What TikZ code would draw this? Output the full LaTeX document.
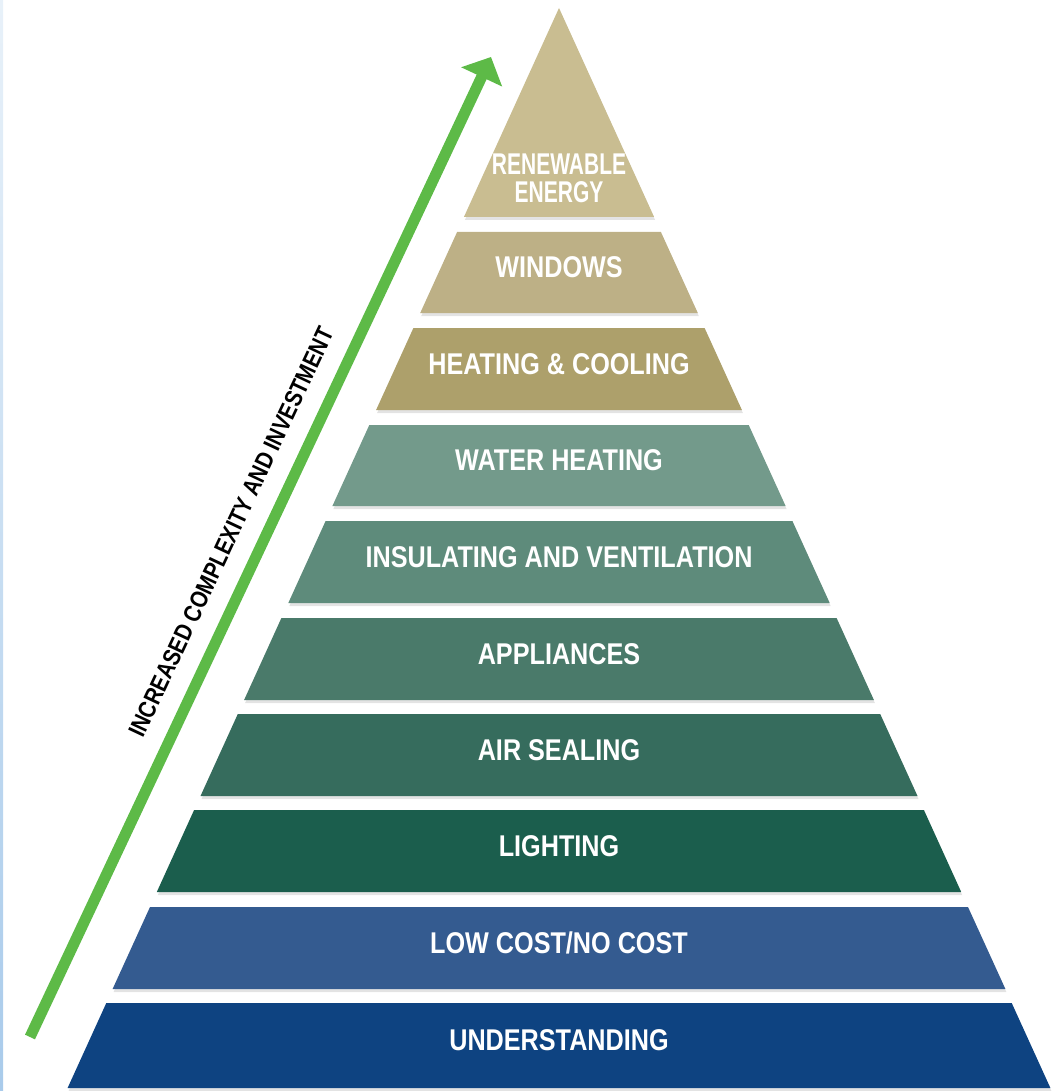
\documentclass[tikz,border=0pt]{standalone}
\usepackage{fontspec}
\usetikzlibrary{arrows.meta, shadows}
\newfontfamily\tierfont[FakeStretch=0.84]{Liberation Sans}
\newfontfamily\tiernarrow[FakeStretch=0.7]{Liberation Sans}

\definecolor{renewcol}{HTML}{C9BD91}
\definecolor{windowcol}{HTML}{BDB086}
\definecolor{heatcol}{HTML}{ADA06B}
\definecolor{watercol}{HTML}{739A8B}
\definecolor{insulcol}{HTML}{5E8B7B}
\definecolor{appliancecol}{HTML}{4A7A6A}
\definecolor{airsealcol}{HTML}{366C5D}
\definecolor{lightcol}{HTML}{1B5E4D}
\definecolor{lowcostcol}{HTML}{345B90}
\definecolor{understandcol}{HTML}{0E4381}
\definecolor{arrowgreen}{HTML}{5DBA47}
\definecolor{edgetop}{HTML}{E8F1F9}
\definecolor{edgebottom}{HTML}{A9CBEB}

\tikzstyle{layer} = [
drop shadow={shadow xshift=1pt, 
shadow yshift=-3pt, 
opacity=0.22}]
\tikzstyle{tier} = [text=white, 
inner sep=0pt, 
align=center,
font=\tierfont\bfseries\fontsize{30}{30}\selectfont]
\tikzstyle{risetextstyle} = [text=black, 
inner sep=0pt, 
font=\tierfont\bfseries\fontsize{24.5}{25}\selectfont]
\tikzstyle{risearrow} = [arrowgreen, 
line width=11pt, 
-{Triangle[length=22pt, width=44pt]}]

\begin{document}
\begin{tikzpicture}[x=1pt, y=-1pt]
	\useasboundingbox (0,0) rectangle (1056,1091);
	\fill[top color=edgetop, bottom color=edgebottom] (0,0) rectangle (3,1091);
	
	% pyramid layers
	\fill[layer, renewcol] (559,8) -- (654.1,217) -- (463.9,217) -- cycle;
	\fill[layer, windowcol] (457.1,232) -- (660.9,232) -- (697.8,313) -- (420.2,313) -- cycle;
	\fill[layer, heatcol] (413.4,328) -- (704.6,328) -- (741.9,410) -- (376.1,410) -- cycle;
	\fill[layer, watercol] (369.3,425) -- (748.7,425) -- (785.6,506) -- (332.4,506) -- cycle;
	\fill[layer, insulcol] (325.6,521) -- (792.4,521) -- (829.7,603) -- (288.3,603) -- cycle;
	\fill[layer, appliancecol] (281.4,618) -- (836.6,618) -- (873.9,700) -- (244.1,700) -- cycle;
	\fill[layer, airsealcol] (237.8,714) -- (880.2,714) -- (917.5,796) -- (200.5,796) -- cycle;
	\fill[layer, lightcol] (194.1,810) -- (923.9,810) -- (961.2,892) -- (156.8,892) -- cycle;
	\fill[layer, lowcostcol] (150.0,907) -- (968.0,907) -- (1005.4,989) -- (112.6,989) -- cycle;
	\fill[layer, understandcol] (106.3,1003) -- (1011.7,1003) -- (1050.4,1088) -- (67.6,1088) -- cycle;
	
	\node (renewable) [tier, font=\tiernarrow\bfseries\fontsize{30}{30}\selectfont] at (559,178) {RENEWABLE\\[-2pt]ENERGY};
	\node (windows) [tier] at (559,267.5) {WINDOWS};
	\node (heating) [tier] at (559,364) {HEATING \& COOLING};
	\node (water) [tier] at (559,460.5) {WATER HEATING};
	\node (insulating) [tier] at (559,557) {INSULATING AND VENTILATION};
	\node (appliances) [tier] at (559,654) {APPLIANCES};
	\node (airseal) [tier] at (559,750) {AIR SEALING};
	\node (lighting) [tier] at (559,846) {LIGHTING};
	\node (lowcost) [tier] at (559,943) {LOW COST/NO COST};
	\node (understanding) [tier] at (559,1040) {UNDERSTANDING};
	
	% rising arrow
	\coordinate (arrowtail) at (30,1037);
	\coordinate (arrowtip) at (491,57);
	\draw [risearrow] (arrowtail) -- (arrowtip);
	\node (risetext) [risetextstyle, rotate=64.8] at (231,532) {INCREASED COMPLEXITY AND INVESTMENT};
\end{tikzpicture}
\end{document}
